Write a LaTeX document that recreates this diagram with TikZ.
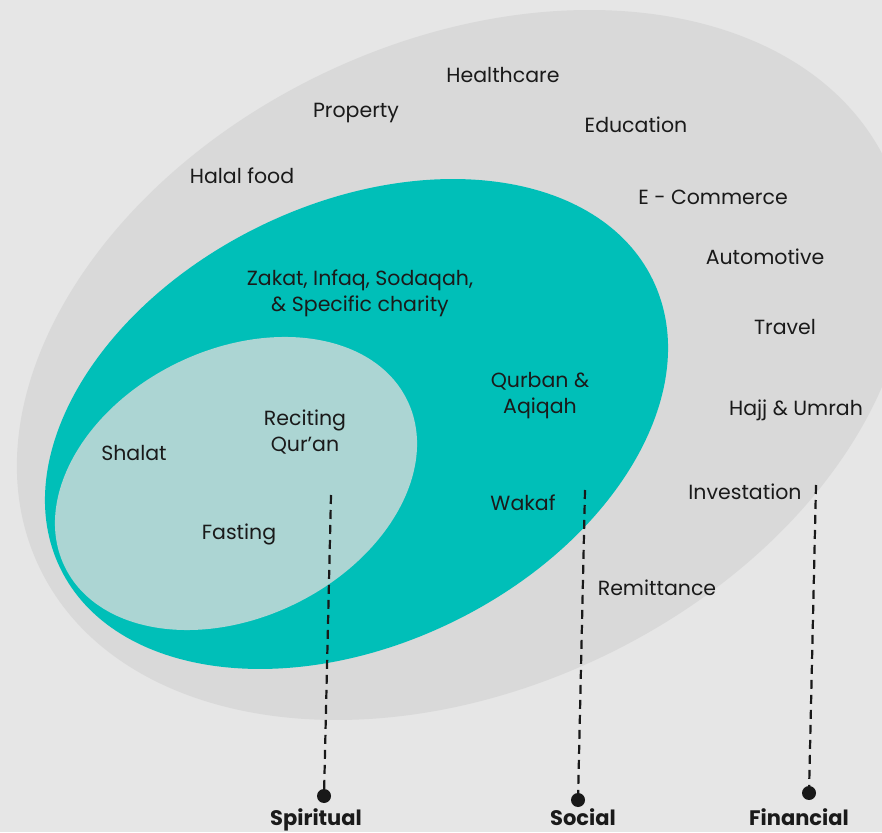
\documentclass[tikz,border=0pt]{standalone}
\usepackage{fontspec}
\setmainfont{Poppins}
\usetikzlibrary{shapes.geometric}
\definecolor{bgc}{HTML}{E6E6E6}
\definecolor{outerc}{HTML}{D9D9D9}
\definecolor{tealc}{HTML}{00BFB8}
\definecolor{innerc}{HTML}{ACD5D3}
\definecolor{txtc}{HTML}{1A1A1A}
\tikzset{
  lbl/.style={text=txtc, font=\fontsize{20.5}{26}\selectfont, align=center, inner sep=0pt},
  dimlbl/.style={text=txtc, font=\bfseries\fontsize{21}{24}\selectfont, inner sep=0pt, anchor=base},
  dot/.style={circle, fill=black!90, minimum size=14pt, inner sep=0pt},
  conn/.style={line width=2.2pt, dash pattern=on 9pt off 6pt, draw=black!90}
}
\begin{document}
\begin{tikzpicture}[x=1pt,y=1pt]
\useasboundingbox (0,0) rectangle (882,832);
\fill[bgc] (0,0) rectangle (882,832);
\begin{scope}
\clip (0,0) rectangle (882,832);
\fill[outerc] (463,467) ellipse[x radius=469.5, y radius=323.3, rotate=25.5];
\fill[tealc] (356.5,408) ellipse[x radius=329.5, y radius=220.1, rotate=26];
\fill[innerc] (236,348.5) ellipse[x radius=190.4, y radius=134.1, rotate=25.9];
\end{scope}
% labels
\node[lbl] (health) at (503,757) {Healthcare};
\node[lbl] (prop) at (356,719) {Property};
\node[lbl] (edu) at (636,707) {Education};
\node[lbl] (halal) at (242,656) {Halal food};
\node[lbl] (ecom) at (713,635) {E - Commerce};
\node[lbl] (auto) at (765,575) {Automotive};
\node[lbl] (travel) at (785,505) {Travel};
\node[lbl] (hajj) at (796,422) {Hajj \& Umrah};
\node[lbl] (invest) at (745,340) {Investation};
\node[lbl] (remit) at (657,244) {Remittance};
\node[lbl] (zakat) at (360,539) {Zakat, Infaq, Sodaqah,\\\& Specific charity};
\node[lbl] (qurban) at (540,436) {Qurban \&\\Aqiqah};
\node[lbl] (wakaf) at (523,329) {Wakaf};
\node[lbl] (recite) at (305,400) {Reciting\\Qur’an};
\node[lbl] (shalat) at (134,379) {Shalat};
\node[lbl] (fast) at (239,298) {Fasting};
% connectors
\coordinate (sptop) at (331,337);
\coordinate (sotop) at (585,342);
\coordinate (fitop) at (816,347);
\node[dot] (spdot) at (324,36) {};
\node[dot] (sodot) at (578,32) {};
\node[dot] (fidot) at (809,39) {};
\draw[conn] (sptop) -- (spdot.center);
\draw[conn] (sotop) -- (sodot.center);
\draw[conn] (fitop) -- (fidot.center);
\node[dimlbl] (spirit) at (316,7) {Spiritual};
\node[dimlbl] (social) at (583,7) {Social};
\node[dimlbl] (fin) at (799,7) {Financial};
\end{tikzpicture}
\end{document}
